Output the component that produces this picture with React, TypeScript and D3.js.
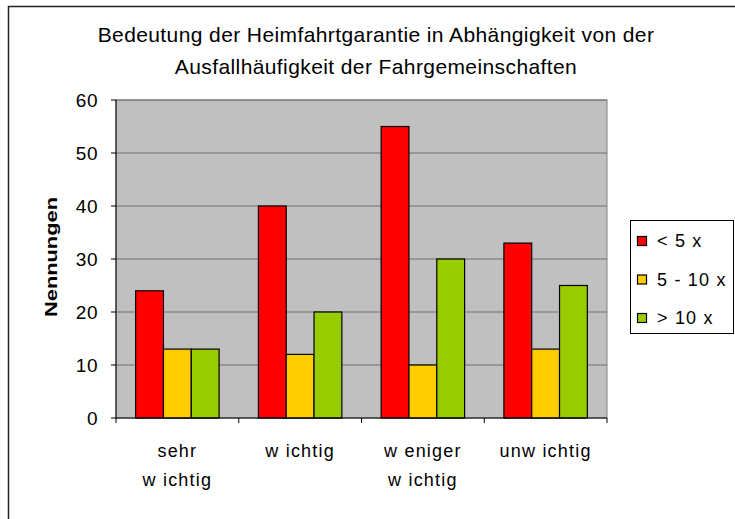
import React from "react";
import * as d3 from "d3";

const categories = [["sehr", "w ichtig"], ["w ichtig"], ["w eniger", "w ichtig"], ["unw ichtig"]];
const seriesNames = ["< 5 x", "5 - 10 x", "> 10 x"];
const seriesColors = ["#FF0000", "#FFCC00", "#99CC00"];
const lt5 = [24, 40, 55, 33];
const from5to10 = [13, 12, 10, 13];
const gt10 = [13, 20, 30, 25];
const yTicks = [0, 10, 20, 30, 40, 50, 60];
const titleLines = [
  "Bedeutung der Heimfahrtgarantie in Abhängigkeit von der",
  "Ausfallhäufigkeit der Fahrgemeinschaften",
];
const yLabel = "Nennungen";

const FONT = "'Liberation Sans', Arial, sans-serif";

export default function App() {
  const W = 735, H = 519;
  const plot = { left: 116, right: 607, top: 100, bottom: 418 };
  const series = [lt5, from5to10, gt10];
  const idx = categories.map((_, i) => String(i));
  const x0 = d3.scaleBand().domain(idx).range([plot.left, plot.right]).padding(0);
  const bw = x0.bandwidth();
  const x1 = d3.scaleBand().domain(["0", "1", "2"]).range([bw * 0.16, bw * 0.84]).padding(0);
  const y = d3.scaleLinear().domain([0, 60]).range([plot.bottom, plot.top]);

  return (
    <svg width={W} height={H} style={{ position: "absolute", left: 0, top: 0, background: "#fff" }} fontFamily={FONT}>
      <rect x={0} y={0} width={W} height={H} fill="#fff" />
      <rect x={8.5} y={6.5} width={W + 20} height={H + 20} fill="none" stroke="#222" strokeWidth={1.5} />
      {titleLines.map((t, i) => (
        <text key={i} x={376} y={42 + i * 32} textAnchor="middle" fontSize={21} letterSpacing={0.4} fill="#000">{t}</text>
      ))}
      <rect x={plot.left} y={plot.top} width={plot.right - plot.left} height={plot.bottom - plot.top} fill="#C0C0C0" stroke="#808080" strokeWidth={1} />
      {yTicks.filter(t => t > 0).map(t => (
        <line key={t} x1={plot.left} x2={plot.right} y1={y(t)} y2={y(t)} stroke="#707070" strokeWidth={1} />
      ))}
      {series.map((vals, s) =>
        vals.map((v, i) => (
          <rect key={s + "-" + i}
            x={(x0(String(i)) as number) + (x1(String(s)) as number)}
            y={y(v)}
            width={x1.bandwidth()}
            height={y(0) - y(v)}
            fill={seriesColors[s]} stroke="#000" strokeWidth={1.2} />
        ))
      )}
      <line x1={plot.left} x2={plot.left} y1={plot.top} y2={plot.bottom} stroke="#000" strokeWidth={1} />
      <line x1={plot.left} x2={plot.right} y1={plot.bottom} y2={plot.bottom} stroke="#000" strokeWidth={1} />
      {yTicks.map(t => (
        <g key={t}>
          <line x1={plot.left - 5} x2={plot.left} y1={y(t)} y2={y(t)} stroke="#000" />
          <text x={98} y={y(t) + 7} textAnchor="end" fontSize={19} letterSpacing={0.5} fill="#000">{t}</text>
        </g>
      ))}
      {idx.concat([String(categories.length)]).map((k, i) => {
        const xx = i < categories.length ? (x0(k) as number) : plot.right;
        return <line key={"t" + i} x1={xx} x2={xx} y1={plot.bottom} y2={plot.bottom + 5} stroke="#000" />;
      })}
      {categories.map((lines, i) => (
        <text key={"c" + i} textAnchor="middle" fontSize={18} letterSpacing={1.2} fill="#000">
          {lines.map((l, j) => (
            <tspan key={j} x={(x0(String(i)) as number) + bw / 2} y={457 + j * 29}>{l}</tspan>
          ))}
        </text>
      ))}
      <text transform={`translate(51,257) rotate(-90)`} textAnchor="middle" dy="0.35em" fontSize={17} fontWeight="bold" textLength={120} lengthAdjust="spacingAndGlyphs" fill="#000">{yLabel}</text>
      <rect x={630.5} y={220.5} width={103} height={113} fill="#fff" stroke="#000" strokeWidth={1} />
      {seriesNames.map((n, i) => (
        <g key={n}>
          <rect x={637.5} y={236.5 + i * 38.5} width={9} height={9} fill={seriesColors[i]} stroke="#000" strokeWidth={1.2} />
          <text x={657} y={247 + i * 38.5} fontSize={18} letterSpacing={1.2} fill="#000">{n}</text>
        </g>
      ))}
    </svg>
  );
}
